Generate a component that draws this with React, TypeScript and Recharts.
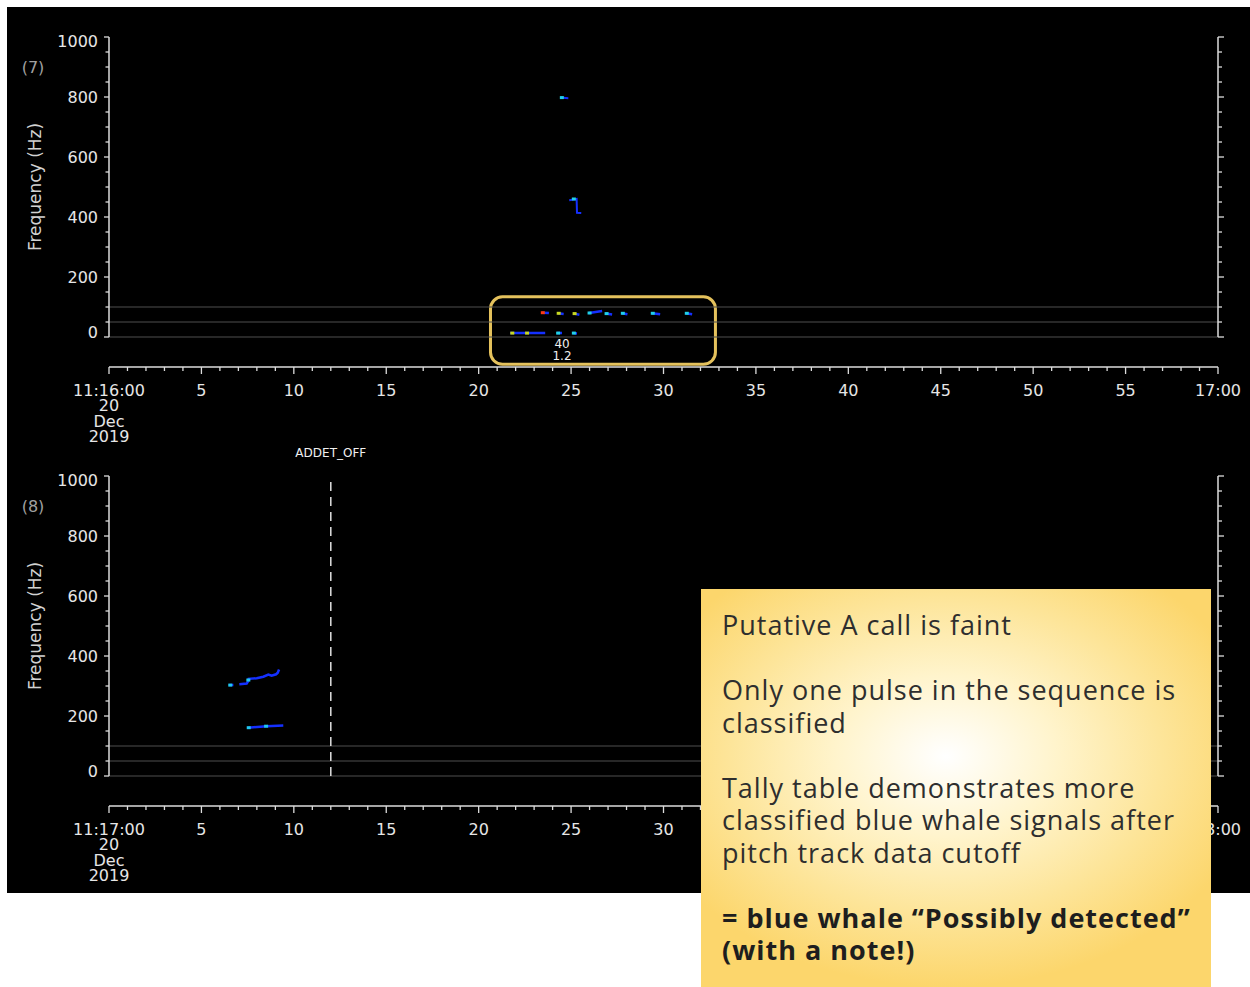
import React from 'react';
import { ComposedChart, Line, Scatter, XAxis, YAxis, ReferenceLine, ReferenceArea, ReferenceDot } from 'recharts';

// axis ranges (seconds within the minute, frequency in Hz)
const T_MAX = 60;
const F_MIN = -100;
const F_MAX = 1000;

const secondTicks = Array.from({ length: T_MAX + 1 }, (_, i) => i);
const freqTicks = Array.from({ length: 21 }, (_, i) => i * 50);
const guideFreqs = [0, 50, 100];

const panel7Start = ['11:16:00', '20', 'Dec', '2019'];
const panel7End = '17:00';
const panel8Start = ['11:17:00', '20', 'Dec', '2019'];
const panel8End = '18:00';

// panel (7) pitch tracks
const p7Call800 = [{ t: 24.45, f: 798 }, { t: 24.85, f: 796 }];
const p7Call460 = [
  { t: 24.9, f: 456 }, { t: 25.3, f: 460 }, { t: 25.32, f: 414 }, { t: 25.55, f: 413 },
];
// [start, end, f start, f end]
const p7UpperRow = [
  [23.43, 23.8, 81, 80], [24.3, 24.6, 79, 77], [25.16, 25.45, 78, 74], [25.97, 26.68, 80, 87],
  [26.89, 27.22, 78, 75], [27.76, 28.05, 79, 76], [29.38, 29.82, 79, 76], [31.22, 31.55, 79, 76],
];
const p7LowerRow = [[21.7, 23.6, 13, 13], [24.24, 24.51, 13, 13], [25.11, 25.32, 13, 12]];
const p7HeadsWarm = [{ t: 23.47, f: 81 }];
const p7HeadsYellow = [
  { t: 24.33, f: 79 }, { t: 25.19, f: 78 }, { t: 21.82, f: 13 }, { t: 22.62, f: 13 },
];
const p7HeadsCyan = [
  { t: 24.5, f: 798 }, { t: 25.15, f: 460 }, { t: 26.0, f: 80 }, { t: 26.92, f: 78 },
  { t: 27.8, f: 79 }, { t: 29.42, f: 79 }, { t: 31.26, f: 79 }, { t: 24.3, f: 13 }, { t: 25.15, f: 13 },
];
const p7Note = { t: 24.51, f: -44, lines: ['40', '1.2'] };
const p7Box = { t0: 20.64, t1: 32.81, f0: -91, f1: 134 };

// panel (8) pitch tracks
const p8Upper = [
  { t: 6.51, f: 303 }, { t: 6.73, f: 303 }, { t: 6.8, f: null },
  { t: 7.05, f: 306 }, { t: 7.45, f: 308 }, { t: 7.54, f: 317 }, { t: 7.56, f: 324 },
  { t: 7.99, f: 326 }, { t: 8.35, f: 331 }, { t: 8.62, f: 338 }, { t: 8.8, f: 334 },
  { t: 9.04, f: 339 }, { t: 9.13, f: 344 }, { t: 9.2, f: 355 },
];
const p8Lower = [{ t: 7.54, f: 161 }, { t: 8.53, f: 166 }, { t: 9.43, f: 168 }];
const p8HeadsCyan = [{ t: 6.56, f: 303 }, { t: 7.56, f: 161 }, { t: 8.5, f: 166 }, { t: 7.54, f: 320 }];
const p8Event = { t: 12, name: 'ADDET_OFF' };

const AXIS = '#dcdcdc';
const TRACK = '#1430ff';
const TICK_FONT = 'DejaVu Sans, sans-serif';

const toPoints = (segs: number[][]) =>
  segs.flatMap(([t0, t1, f0, f1]) => [{ t: t0, f: f0 }, { t: t1, f: f1 }, { t: t1 + 0.02, f: null }]);

const FreqTickLeft = (props: any) => {
  const { x, y, payload } = props;
  const v = payload.value;
  const major = v % 200 === 0;
  const dy = v === F_MAX ? 4 : v === 0 ? -5 : 0;
  return (
    <g>
      <line x1={x - (major ? 5 : 3.5)} x2={x} y1={y} y2={y} stroke={AXIS} strokeWidth={1.3} />
      {major && (
        <text x={x - 11} y={y + dy} textAnchor="end" dominantBaseline="central" fill="#e6e6e6"
          fontSize={16} fontFamily={TICK_FONT}>{v}</text>
      )}
    </g>
  );
};

const FreqTickRight = (props: any) => {
  const { x, y, payload } = props;
  const major = payload.value % 200 === 0;
  return <line x1={x} x2={x + (major ? 6 : 4)} y1={y} y2={y} stroke={AXIS} strokeWidth={1.3} />;
};

const makeTimeTick = (startLines: string[], endLabel: string) => (props: any) => {
  const { x, y, payload } = props;
  const v = payload.value;
  const major = v % 5 === 0;
  let lines: string[] | null = null;
  if (v === 0) lines = startLines;
  else if (v === T_MAX) lines = [endLabel];
  else if (major) lines = [String(v)];
  return (
    <g>
      <line x1={x} x2={x} y1={y} y2={y + (major ? 7 : 4)} stroke={AXIS} strokeWidth={1.3} />
      {lines && (
        <text x={x} y={y + 29} textAnchor="middle" fill="#e6e6e6" fontSize={16} fontFamily={TICK_FONT}>
          {lines.map((l, i) => (
            <tspan key={i} x={x} dy={i === 0 ? 0 : 15.4}>{l}</tspan>
          ))}
        </text>
      )}
    </g>
  );
};

const headShape = (color: string) => (p: any) => (
  <rect x={p.cx - 2} y={p.cy - 1.5} width={4} height={3} fill={color} />
);

interface PanelProps {
  tag: string;
  startLines: string[];
  endLabel: string;
  top: number;
  children?: React.ReactNode;
}

function Panel({ tag, startLines, endLabel, top, children }: PanelProps) {
  const yLabel = (p: any) => {
    const vb = p.viewBox;
    const span = F_MAX - F_MIN;
    const cy = vb.y + (vb.height * (F_MAX - 500)) / span;
    const tagY = vb.y + (vb.height * (F_MAX - 900)) / span;
    return (
      <g>
        <text x={33} y={tagY} textAnchor="middle" dominantBaseline="central" fill="#a0a0a0"
          fontSize={16} fontFamily={TICK_FONT}>{tag}</text>
        <text x={35} y={cy} transform={`rotate(-90, 35, ${cy})`} textAnchor="middle"
          dominantBaseline="central" fill="#d2d2d2" fontSize={17} fontFamily={TICK_FONT}>
          Frequency (Hz)
        </text>
      </g>
    );
  };

  return (
    <div style={{ position: 'absolute', left: 0, top }}>
      <ComposedChart width={1250} height={447} margin={{ top: 37, right: 0, bottom: 0, left: 0 }}>
        <XAxis dataKey="t" type="number" domain={[0, T_MAX]} ticks={secondTicks} interval={0}
          axisLine={{ stroke: AXIS, strokeWidth: 1.5 }} tickLine={false} tickSize={0} tickMargin={0}
          height={80} tick={makeTimeTick(startLines, endLabel)} allowDataOverflow />
        <YAxis dataKey="f" type="number" domain={[F_MIN, F_MAX]} ticks={freqTicks} interval={0}
          width={109} axisLine={false} tickLine={false} tickSize={0} tickMargin={0}
          tick={FreqTickLeft} label={yLabel} allowDataOverflow />
        <YAxis yAxisId="r" orientation="right" type="number" domain={[F_MIN, F_MAX]} ticks={freqTicks}
          interval={0} width={32} axisLine={false} tickLine={false} tickSize={0} tickMargin={0}
          tick={FreqTickRight} allowDataOverflow />
        {guideFreqs.map((g) => (
          <ReferenceLine key={g} y={g} stroke="#4e4e4e" strokeWidth={1.2} />
        ))}
        <ReferenceLine segment={[{ x: 0, y: 0 }, { x: 0, y: F_MAX }]} stroke={AXIS} strokeWidth={1.5} />
        <ReferenceLine segment={[{ x: T_MAX, y: 0 }, { x: T_MAX, y: F_MAX }]} stroke={AXIS} strokeWidth={1.5} />
        {children}
      </ComposedChart>
    </div>
  );
}

export default function App() {
  return (
    <div style={{ position: 'absolute', left: 0, top: 0, width: 1250, height: 987, background: '#ffffff', overflow: 'hidden' }}>
      <div style={{ position: 'absolute', left: 7, top: 7, width: 1243, height: 886, background: '#000000' }} />

      <Panel tag="(7)" startLines={panel7Start} endLabel={panel7End} top={0}>
        <Line data={p7Call800} dataKey="f" stroke={TRACK} strokeWidth={2} dot={false} isAnimationActive={false} />
        <Line data={p7Call460} dataKey="f" stroke={TRACK} strokeWidth={2} dot={false} isAnimationActive={false} />
        <Line data={toPoints(p7UpperRow)} dataKey="f" stroke={TRACK} strokeWidth={2.5} dot={false} isAnimationActive={false} />
        <Line data={toPoints(p7LowerRow)} dataKey="f" stroke={TRACK} strokeWidth={2.5} dot={false} isAnimationActive={false} />
        <Scatter data={p7HeadsWarm} dataKey="f" shape={headShape('#ff3a10')} isAnimationActive={false} />
        <Scatter data={p7HeadsYellow} dataKey="f" shape={headShape('#c8d820')} isAnimationActive={false} />
        <Scatter data={p7HeadsCyan} dataKey="f" shape={headShape('#20d0e8')} isAnimationActive={false} />
        <ReferenceArea x1={p7Box.t0} x2={p7Box.t1} y1={p7Box.f0} y2={p7Box.f1}
          shape={(p: any) => (
            <rect x={p.x} y={p.y} width={p.width} height={p.height} rx={12} ry={12}
              fill="none" stroke="#e4c15c" strokeWidth={3} />
          )} />
        <ReferenceDot x={p7Note.t} y={p7Note.f} r={1} fill="none" stroke="none"
          label={(p: any) => (
            <text x={p.viewBox.x + 1} y={p.viewBox.y - 1} textAnchor="middle" fill="#f0f0f0"
              fontSize={12} fontFamily={TICK_FONT}>
              {p7Note.lines.map((l, i) => (
                <tspan key={i} x={p.viewBox.x + 1} dy={i === 0 ? 0 : 12}>{l}</tspan>
              ))}
            </text>
          )} />
      </Panel>

      <Panel tag="(8)" startLines={panel8Start} endLabel={panel8End} top={439}>
        <Line data={p8Upper} dataKey="f" stroke={TRACK} strokeWidth={2.5} dot={false} isAnimationActive={false} />
        <Line data={p8Lower} dataKey="f" stroke={TRACK} strokeWidth={2.5} dot={false} isAnimationActive={false} />
        <Scatter data={p8HeadsCyan} dataKey="f" shape={headShape('#20c8f0')} isAnimationActive={false} />
        <ReferenceLine segment={[{ x: p8Event.t, y: 0 }, { x: p8Event.t, y: F_MAX }]} stroke="#e0e0e0"
          strokeWidth={1.5} strokeDasharray="9 6"
          label={(p: any) => (
            <text x={p.viewBox.x} y={p.viewBox.y - 19} textAnchor="middle" fill="#f0f0f0"
              fontSize={12} fontFamily={TICK_FONT}>{p8Event.name}</text>
          )} />
      </Panel>

      <div style={{
        position: 'absolute', left: 701, top: 589, width: 510, height: 398, boxSizing: 'border-box',
        padding: '20px 0 0 21px',
        background: 'radial-gradient(ellipse 62% 58% at 48% 42%, #ffffff 0%, #fff4cc 35%, #fde59a 68%, #fcd66c 100%)',
        fontFamily: '"Open Sans", sans-serif', fontSize: 27, letterSpacing: 1, lineHeight: '32.5px', color: '#2e2e2e',
        whiteSpace: 'pre-line',
      }}>
        {'Putative A call is faint\n\nOnly one pulse in the sequence is\nclassified\n\nTally table demonstrates more\nclassified blue whale signals after\npitch track data cutoff\n\n'}
        <span style={{ fontWeight: 700, color: '#1e1e1e', letterSpacing: 1 }}>
          {'= blue whale \u201cPossibly detected\u201d\n(with a note!)'}
        </span>
      </div>
    </div>
  );
}
